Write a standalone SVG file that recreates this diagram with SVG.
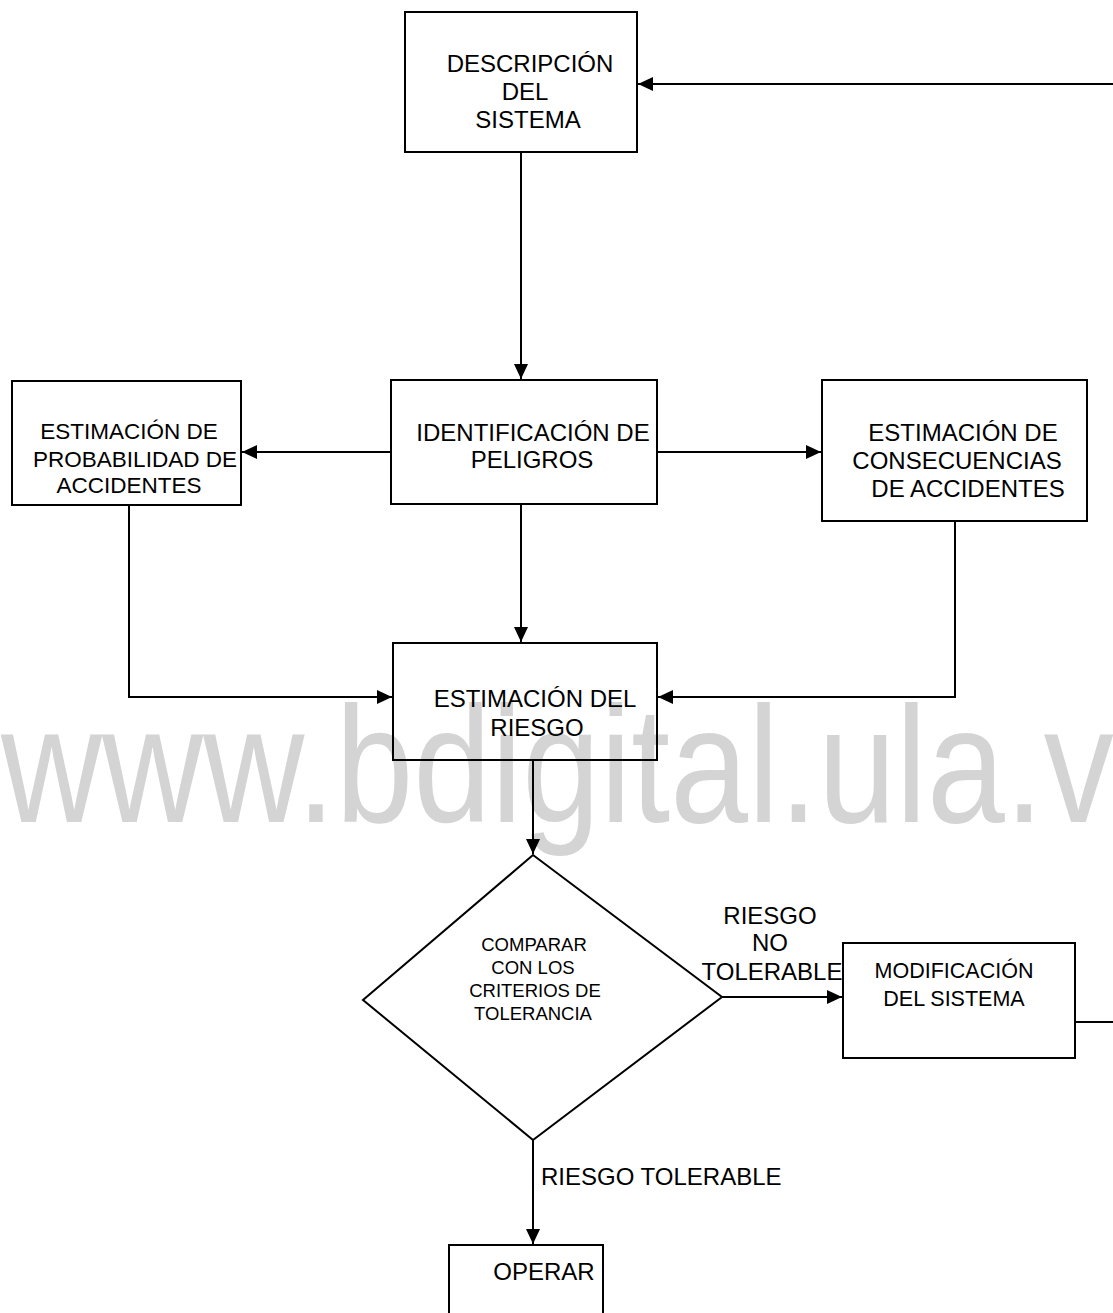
<svg xmlns="http://www.w3.org/2000/svg" width="1113" height="1313" viewBox="0 0 1113 1313">
<style>
.box{fill:none;stroke:#000;stroke-width:2}
.ln{fill:none;stroke:#000;stroke-width:2}
text{font-family:"Liberation Sans",Arial,sans-serif;fill:#000;text-anchor:middle}
.t{font-size:24px}
.s{font-size:22.5px}
.m{font-size:21.5px}
.d{font-size:18.5px}
.wm{font-size:140px;fill:#d4d4d4;text-anchor:start}
</style>
<defs>
<marker id="ah" markerWidth="16" markerHeight="14" refX="15" refY="7" orient="auto" markerUnits="userSpaceOnUse">
<path d="M0,0 L15,7 L0,14 Z" fill="#000"/>
</marker>
</defs>
<rect width="1113" height="1313" fill="#fff"/>
<text class="wm" x="0" y="0" transform="translate(1,822) scale(1,1.18)">www.bdigital.ula.ve</text>
<g id="connectors">
<line class="ln" x1="1113" y1="84" x2="638" y2="84" marker-end="url(#ah)"/>
<line class="ln" x1="521" y1="152" x2="521" y2="379" marker-end="url(#ah)"/>
<line class="ln" x1="391" y1="452" x2="242" y2="452" marker-end="url(#ah)"/>
<line class="ln" x1="657" y1="452" x2="821" y2="452" marker-end="url(#ah)"/>
<line class="ln" x1="521" y1="504" x2="521" y2="642" marker-end="url(#ah)"/>
<polyline class="ln" points="129,505 129,697 392,697" marker-end="url(#ah)"/>
<polyline class="ln" points="955,521 955,697 658,697" marker-end="url(#ah)"/>
<line class="ln" x1="533" y1="760" x2="533" y2="854" marker-end="url(#ah)"/>
<line class="ln" x1="722" y1="997" x2="842" y2="997" marker-end="url(#ah)"/>
<line class="ln" x1="1075" y1="1022" x2="1113" y2="1022"/>
<line class="ln" x1="533" y1="1140" x2="533" y2="1244" marker-end="url(#ah)"/>
<text class="t" x="770" y="924">RIESGO</text>
<text class="t" x="770" y="951">NO</text>
<text class="t" x="772" y="980">TOLERABLE</text>
<text class="t" x="541" y="1185" style="text-anchor:start">RIESGO TOLERABLE</text>
</g>
<g id="descripcion">
<rect class="box" x="405" y="12" width="232" height="140"/>
<text class="t" x="530" y="72">DESCRIPCIÓN</text>
<text class="t" x="525" y="100">DEL</text>
<text class="t" x="528" y="128">SISTEMA</text>
</g>
<g id="probabilidad">
<rect class="box" x="12" y="381" width="229" height="124"/>
<text class="s" x="129" y="439">ESTIMACIÓN DE</text>
<text class="s" x="135" y="467">PROBABILIDAD DE</text>
<text class="s" x="129" y="493">ACCIDENTES</text>
</g>
<g id="identificacion">
<rect class="box" x="391" y="380" width="266" height="124"/>
<text class="t" x="533" y="441">IDENTIFICACIÓN DE</text>
<text class="t" x="532" y="468">PELIGROS</text>
</g>
<g id="consecuencias">
<rect class="box" x="822" y="380" width="265" height="141"/>
<text class="t" x="963" y="441">ESTIMACIÓN DE</text>
<text class="t" x="957" y="469">CONSECUENCIAS</text>
<text class="t" x="968" y="497">DE ACCIDENTES</text>
</g>
<g id="riesgo">
<rect class="box" x="393" y="643" width="264" height="117"/>
<text class="t" x="535" y="707">ESTIMACIÓN DEL</text>
<text class="t" x="537" y="736">RIESGO</text>
</g>
<g id="comparar">
<polygon class="box" points="533,855 722,997 533,1140 363,1000"/>
<text class="d" x="534" y="951">COMPARAR</text>
<text class="d" x="533" y="974">CON LOS</text>
<text class="d" x="535" y="997">CRITERIOS DE</text>
<text class="d" x="533" y="1020">TOLERANCIA</text>
</g>
<g id="modificacion">
<rect class="box" x="843" y="943" width="232" height="115"/>
<text class="m" x="954" y="978">MODIFICACIÓN</text>
<text class="m" x="954" y="1006">DEL SISTEMA</text>
</g>
<g id="operar">
<rect class="box" x="449" y="1245" width="154" height="80"/>
<text class="t" x="544" y="1280">OPERAR</text>
</g>
</svg>
